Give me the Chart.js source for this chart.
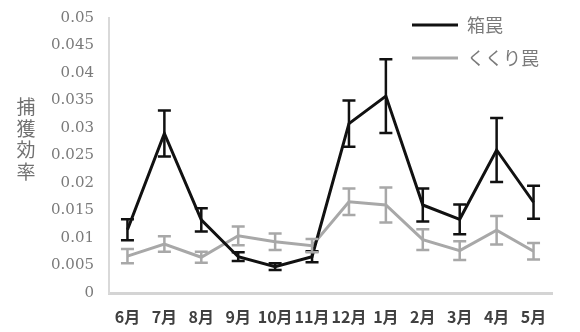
<!DOCTYPE html>
<html>
<head>
<meta charset="utf-8">
<script src="https://cdn.jsdelivr.net/npm/chart.js@4"></script>
<style>
  html, body { margin: 0; padding: 0; background: #fff; }
  #wrap { width: 580px; height: 332px; position: relative; }
</style>
</head>
<body>
<div id="wrap"><canvas id="c" width="580" height="332"></canvas></div>
<script>
// Monthly capture efficiency by trap type (mean and standard error)
const months = ['6月', '7月', '8月', '9月', '10月', '11月', '12月', '1月', '2月', '3月', '4月', '5月'];
const boxTrap = [0.0115, 0.0290, 0.0133, 0.0066, 0.0048, 0.0066, 0.0308, 0.0358, 0.0160, 0.0134, 0.0260, 0.0165];
const boxTrapErr = [0.0019, 0.0042, 0.0021, 0.0008, 0.0006, 0.0010, 0.0042, 0.0067, 0.0030, 0.0027, 0.0058, 0.0030];
const snareTrap = [0.0067, 0.0089, 0.0065, 0.0104, 0.0093, 0.0086, 0.0166, 0.0160, 0.0097, 0.0077, 0.0114, 0.0076];
const snareTrapErr = [0.0013, 0.0014, 0.0010, 0.0017, 0.0015, 0.0012, 0.0024, 0.0032, 0.0019, 0.0017, 0.0026, 0.0015];
const yTicks = [0, 0.005, 0.01, 0.015, 0.02, 0.025, 0.03, 0.035, 0.04, 0.045, 0.05];
const yTitle = '捕獲効率';

// serif numerals for the value axis
Chart.defaults.font.family = '"DejaVu Serif", serif';
Chart.defaults.font.size = 15;

const errorBars = {
  id: 'errorBars',
  afterDatasetsDraw(chart) {
    const ctx = chart.ctx;
    const ys = chart.scales.y;
    chart.data.datasets.forEach((ds, di) => {
      const meta = chart.getDatasetMeta(di);
      ctx.save();
      ctx.strokeStyle = ds.borderColor;
      ctx.lineWidth = 2.5;
      meta.data.forEach((pt, i) => {
        const v = ds.data[i], e = ds.errors[i];
        const x = pt.x;
        const yTop = ys.getPixelForValue(v + e);
        const yBot = ys.getPixelForValue(v - e);
        const hw = 6.5;
        ctx.beginPath();
        ctx.moveTo(x, yTop); ctx.lineTo(x, yBot);
        ctx.moveTo(x - hw, yTop); ctx.lineTo(x + hw, yTop);
        ctx.moveTo(x - hw, yBot); ctx.lineTo(x + hw, yBot);
        ctx.stroke();
      });
      ctx.restore();
    });
  }
};

const decorations = {
  id: 'decorations',
  afterDraw(chart) {
    const ctx = chart.ctx;
    ctx.save();
    // vertical axis title, one character per line
    ctx.fillStyle = '#707070';
    ctx.font = '19px "Noto Sans CJK JP"';
    ctx.textAlign = 'center';
    ctx.textBaseline = 'middle';
    [...yTitle].forEach((ch, i) => ctx.fillText(ch, 26, 107 + i * 21.5));
    // legend
    const items = chart.data.datasets;
    items.forEach((ds, i) => {
      const y = 25 + i * 33;
      ctx.strokeStyle = ds.borderColor;
      ctx.lineWidth = 3;
      ctx.beginPath();
      ctx.moveTo(412, y); ctx.lineTo(458, y);
      ctx.stroke();
      ctx.fillStyle = '#7a7a7a';
      ctx.font = '18px "Noto Sans CJK JP"';
      ctx.textAlign = 'left';
      ctx.fillText(ds.label, 467, y);
    });
    ctx.restore();
  }
};

new Chart(document.getElementById('c'), {
  type: 'line',
  data: {
    labels: months,
    datasets: [
      { label: '箱罠', data: boxTrap, errors: boxTrapErr, borderColor: '#111', borderWidth: 3, pointRadius: 0, tension: 0, fill: false },
      { label: 'くくり罠', data: snareTrap, errors: snareTrapErr, borderColor: '#a8a8a8', borderWidth: 3, pointRadius: 0, tension: 0, fill: false }
    ]
  },
  options: {
    responsive: false,
    animation: false,
    layout: { padding: { top: 18, right: 28, left: 0, bottom: 0 } },
    plugins: { legend: { display: false }, tooltip: { enabled: false } },
    scales: {
      x: {
        offset: true,
        grid: { display: false, drawTicks: false },
        border: { display: true, color: '#d4d4d4', width: 3 },
        ticks: { color: '#404040', font: { family: '"Noto Sans CJK JP"', size: 16, weight: 'bold' }, padding: 14, maxRotation: 0, autoSkip: false },
        afterFit(s) { s.height = 39; }
      },
      y: {
        min: 0, max: 0.05,
        grid: { display: false, drawTicks: false },
        border: { display: true, color: '#d9d9d9', width: 2 },
        afterBuildTicks(s) { s.ticks = yTicks.map(v => ({ value: v })); },
        ticks: {
          color: '#7a7a7a',
          font: { family: '"DejaVu Serif", serif', size: 15 },
          padding: 15,
          callback: v => String(Number(v.toFixed(3)))
        },
        afterFit(s) { s.width = 109; s.paddingTop = 0; s.paddingBottom = 0; }
      }
    }
  },
  plugins: [errorBars, decorations]
});
</script>
</body>
</html>
